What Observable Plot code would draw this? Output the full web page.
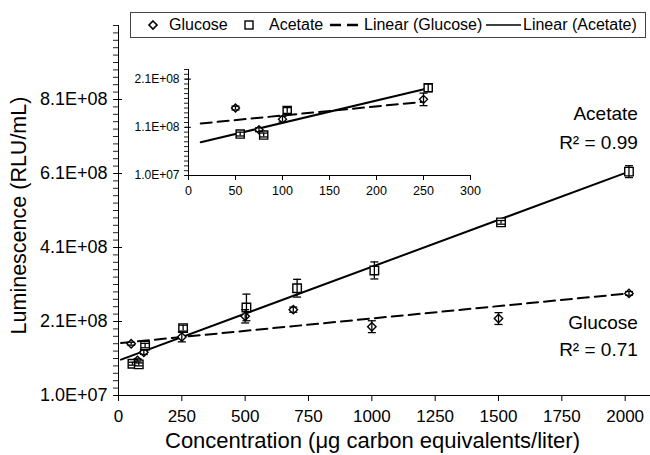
<!DOCTYPE html>
<html><head><meta charset="utf-8">
<script src="https://cdn.jsdelivr.net/npm/d3@7"></script>
<script src="https://cdn.jsdelivr.net/npm/@observablehq/plot@0.6"></script>
<style>
body{margin:0;background:#fff;}
#wrap{position:relative;width:650px;height:455px;overflow:hidden;background:#fff;font-family:"Liberation Sans",Arial,Helvetica,sans-serif;}
#wrap svg{position:absolute;left:0;top:0;background:transparent !important;}
#legend{position:absolute;left:130px;top:12px;width:514px;height:24px;border:1px solid #444;background:#fff;font-size:16px;color:#000;}
#legend span{position:absolute;top:3px;white-space:nowrap;}
#legend svg.ic{position:absolute;top:0;}
</style></head>
<body>
<div id="wrap"></div>
<script>
// ---- data ----
const glucoseX   = [50, 75, 100, 250, 500, 690, 1000, 1500, 2015];
const glucoseY   = [1.50e8, 1.05e8, 1.27e8, 1.68e8, 2.24e8, 2.42e8, 1.96e8, 2.18e8, 2.86e8];
const glucoseErr = [4e6, 4e6, 6e6, 1.3e7, 1.8e7, 7e6, 1.6e7, 1.6e7, 5e6];
const acetateX   = [55, 80, 105, 255, 505, 705, 1010, 1510, 2015];
const acetateY   = [9.6e7, 9.4e7, 1.45e8, 1.92e8, 2.48e8, 3.0e8, 3.48e8, 4.78e8, 6.15e8];
const acetateErr = [4e6, 4e6, 6e6, 8e6, 3.6e7, 2.4e7, 2.3e7, 5e6, 1.6e7];
const glucoseFitX = [10, 2015];
const glucoseFitY = [1.52e8, 2.86e8];
const acetateFitX = [10, 2015];
const acetateFitY = [1.07e8, 6.15e8];
const insetGlucoseFitX = [13, 250];
const insetGlucoseFitY = [1.18e8, 1.63e8];
const insetAcetateFitX = [13, 255];
const insetAcetateFitY = [7.9e7, 1.91e8];
const xTicks = [0, 250, 500, 750, 1000, 1250, 1500, 1750, 2000];
const yTicks = [1e7, 2.1e8, 4.1e8, 6.1e8, 8.1e8];
const insetXTicks = [0, 50, 100, 150, 200, 250, 300];
const insetYTicks = [1e7, 1.1e8, 2.1e8];
const annotations = [
  {x: 2050, y: 7.70e8, text: "Acetate"},
  {x: 2050, y: 6.94e8, text: "R\u00B2 = 0.99"},
  {x: 2050, y: 2.07e8, text: "Glucose"},
  {x: 2050, y: 1.32e8, text: "R\u00B2 = 0.71"}
];
const xLabel = "Concentration (\u03BCg carbon equivalents/liter)";
const yLabel = "Luminescence (RLU/mL)";

// ---- helpers ----
const rows = (xs, ys, es) => xs.map((x, i) => ({x, y: ys[i], e: es ? es[i] : 0}));
const fmtE = v => {
  const [m, e] = v.toExponential(1).split("e");
  const n = +e;
  return m + "E" + (n < 0 ? "-" : "+") + String(Math.abs(n)).padStart(2, "0");
};
const cap = {draw(ctx, size) { const r = Math.sqrt(size / Math.PI); ctx.moveTo(-r, 0); ctx.lineTo(r, 0); }};
const glucose = rows(glucoseX, glucoseY, glucoseErr);
const acetate = rows(acetateX, acetateY, acetateErr);
const font = '"Liberation Sans", Arial, Helvetica, sans-serif';

function seriesMarks(g, a, gFit, aFit, sz) {
  return [
    Plot.line(gFit, {x: "x", y: "y", stroke: "#000", strokeWidth: 2, strokeDasharray: "11,6"}),
    Plot.line(aFit, {x: "x", y: "y", stroke: "#000", strokeWidth: 2}),
    Plot.dot(g, {x: "x", y: "y", symbol: "diamond2", r: sz.d, fill: "#fff", stroke: "#000", strokeWidth: 1.4}),
    Plot.dot(a, {x: "x", y: "y", symbol: "square", r: sz.s, fill: "#fff", stroke: "#000", strokeWidth: 1.4}),
    Plot.ruleX(g.concat(a), {x: "x", y1: d => d.y - d.e, y2: d => d.y + d.e, stroke: "#000", strokeWidth: 1.3}),
    Plot.dot(g.concat(a), {x: "x", y: d => d.y - d.e, symbol: cap, r: 4, stroke: "#000", strokeWidth: 1.3}),
    Plot.dot(g.concat(a), {x: "x", y: d => d.y + d.e, symbol: cap, r: 4, stroke: "#000", strokeWidth: 1.3})
  ];
}
// y-axis ticks: minor ticks outside, major ticks crossing the axis
function yTickMarks(minor, major, minorLen, majorLen) {
  return [
    Plot.axisY(minor, {tickSize: minorLen, tickFormat: () => "", label: null, stroke: "#222"}),
    Plot.axisY(major, {tickSize: 2 * majorLen, dx: majorLen, tickFormat: () => "", label: null, stroke: "#000"})
  ];
}

const yMinor = d3.range(1e7, 1.0100001e9, 2e7);
const main = Plot.plot({
  width: 650, height: 455,
  marginLeft: 118, marginRight: 0, marginTop: 25, marginBottom: 60,
  x: {domain: [0, 2100], label: null},
  y: {domain: [1e7, 1.01e9], label: null},
  style: {fontFamily: font, background: "transparent", color: "#000"},
  marks: [
    Plot.ruleY([1e7], {stroke: "#000"}),
    Plot.ruleX([0], {stroke: "#000"}),
    ...yTickMarks(yMinor, yTicks, 5, 4),
    Plot.axisY(yTicks, {tickSize: 0, tickPadding: 11, tickFormat: fmtE, fontSize: 18, label: null}),
    Plot.axisX(xTicks, {tickSize: 6, tickPadding: 8, fontSize: 17, tickFormat: d => String(d), label: null}),
    ...seriesMarks(glucose, acetate, rows(glucoseFitX, glucoseFitY), rows(acetateFitX, acetateFitY), {d: 3.8, s: 4.8}),
    Plot.text(annotations, {x: "x", y: "y", text: "text", textAnchor: "end", fontSize: 19}),
    Plot.text([xLabel], {frameAnchor: "bottom", textAnchor: "middle", dy: 52, dx: -12, fontSize: 22}),
    Plot.text([yLabel], {frameAnchor: "left", textAnchor: "middle", rotate: -90, dx: -99, dy: 5, fontSize: 21.5})
  ]
});

const insetG = glucose.filter(d => d.x <= 300);
const insetA = acetate.filter(d => d.x <= 300);
const insetMinor = d3.range(1e7, 2.300001e8, 1e7);
const inset = Plot.plot({
  width: 500, height: 210,
  marginLeft: 188, marginRight: 30, marginTop: 69, marginBottom: 35,
  x: {domain: [0, 300], label: null},
  y: {domain: [1e7, 2.3e8], label: null},
  style: {fontFamily: font, background: "transparent", color: "#000"},
  marks: [
    Plot.ruleY([1e7], {stroke: "#000"}),
    Plot.ruleX([0], {stroke: "#000"}),
    ...yTickMarks(insetMinor, insetYTicks, 4, 3),
    Plot.axisY(insetYTicks, {tickSize: 0, tickPadding: 9, tickFormat: fmtE, fontSize: 12, label: null}),
    Plot.axisX(insetXTicks, {tickSize: 5, tickPadding: 6, fontSize: 12.5, tickFormat: d => String(d), label: null}),
    ...seriesMarks(insetG, insetA, rows(insetGlucoseFitX, insetGlucoseFitY), rows(insetAcetateFitX, insetAcetateFitY), {d: 3.6, s: 4.6})
  ]
});

const wrap = document.getElementById("wrap");
wrap.appendChild(main);
wrap.appendChild(inset);

// legend
const legend = document.createElement("div");
legend.id = "legend";
legend.innerHTML = `
<svg class="ic" width="20" height="24" style="left:12px"><path d="M10,8 L14,12 L10,16 L6,12 Z" fill="#fff" stroke="#000" stroke-width="1.6"/></svg>
<span style="left:38px">Glucose</span>
<svg class="ic" width="20" height="24" style="left:108px"><rect x="6" y="8" width="8" height="8" fill="#fff" stroke="#000" stroke-width="1.4"/></svg>
<span style="left:138px">Acetate</span>
<svg class="ic" width="34" height="24" style="left:198px"><line x1="1" y1="12" x2="33" y2="12" stroke="#000" stroke-width="2.5" stroke-dasharray="11,6"/></svg>
<span style="left:233px">Linear (Glucose)</span>
<svg class="ic" width="36" height="24" style="left:354px"><line x1="1" y1="12" x2="36" y2="12" stroke="#000" stroke-width="1.6"/></svg>
<span style="left:392px">Linear (Acetate)</span>`;
wrap.appendChild(legend);
</script>
</body></html>
